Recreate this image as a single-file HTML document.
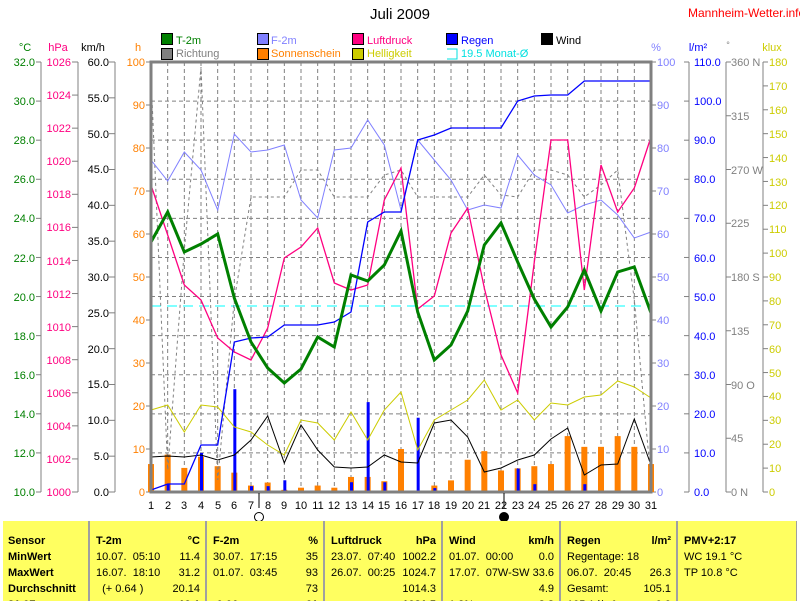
<!DOCTYPE html>
<html><head><meta charset="utf-8"><style>
body{margin:0;width:800px;height:601px;overflow:hidden;background:#fff;font-family:"Liberation Sans",sans-serif}
svg{position:absolute;left:0;top:0}
text{font-family:"Liberation Sans",sans-serif;font-size:11px}
#tb{position:absolute;left:3px;top:521px;width:794px;height:80px;background:#ffff60;overflow:hidden}
.c{position:absolute;top:0;height:80px;border-left:2px solid #a0a0a0;font-size:11px;line-height:16px;padding-top:12px;box-sizing:border-box}
.r{position:relative;height:16px;white-space:pre}
.r span{position:absolute;right:5px;top:0}
.b{font-weight:bold}
</style></head><body>
<svg id="s" width="800" height="521" viewBox="0 0 800 521">
<text x="400" y="19" text-anchor="middle" style="font-size:15px">Juli 2009</text>
<text x="688" y="17" fill="#ff0000" style="font-size:12px">Mannheim-Wetter.info</text>
<g stroke="#000" stroke-width="1">
<rect x="161.5" y="33.5" width="11" height="11" fill="#008000"/>
<rect x="257.5" y="33.5" width="11" height="11" fill="#8080ff"/>
<rect x="352.5" y="33.5" width="11" height="11" fill="#ff0080"/>
<rect x="446.5" y="33.5" width="11" height="11" fill="#0000ff"/>
<rect x="541.5" y="33.5" width="11" height="11" fill="#000"/>
<rect x="161.5" y="48.5" width="11" height="11" fill="#808080"/>
<rect x="257.5" y="48.5" width="11" height="11" fill="#ff8000"/>
<rect x="352.5" y="48.5" width="11" height="11" fill="#cccc00"/>
</g>
<path d="M447 49 H457 V59 H447" fill="none" stroke="#00e0e0"/>
<text x="176" y="44" fill="#008000">T-2m</text>
<text x="271" y="44" fill="#8080ff">F-2m</text>
<text x="367" y="44" fill="#ff0080">Luftdruck</text>
<text x="461" y="44" fill="#0000ff">Regen</text>
<text x="556" y="44" fill="#000">Wind</text>
<text x="176" y="57" fill="#808080">Richtung</text>
<text x="271" y="57" fill="#ff8000">Sonnenschein</text>
<text x="367" y="57" fill="#cccc00">Helligkeit</text>
<text x="461" y="57" fill="#00e0e0">19.5 Monat-Ø</text>
<text x="25" y="51" fill="#008000" text-anchor="middle">°C</text>
<text x="58" y="51" fill="#ff0080" text-anchor="middle">hPa</text>
<text x="93" y="51" fill="#000" text-anchor="middle">km/h</text>
<text x="138" y="51" fill="#ff8000" text-anchor="middle">h</text>
<text x="656" y="51" fill="#8080ff" text-anchor="middle">%</text>
<text x="698" y="51" fill="#0000ff" text-anchor="middle">l/m²</text>
<text x="728" y="48" fill="#808080" text-anchor="middle" style="font-size:9px">°</text>
<text x="772" y="51" fill="#cccc00" text-anchor="middle">klux</text>
<g id="g"></g>
<g text-anchor="end" fill="#008000">
<text x="35" y="66">32.0</text><text x="35" y="105">30.0</text><text x="35" y="144">28.0</text><text x="35" y="183">26.0</text><text x="35" y="222">24.0</text><text x="35" y="262">22.0</text><text x="35" y="301">20.0</text><text x="35" y="340">18.0</text><text x="35" y="379">16.0</text><text x="35" y="418">14.0</text><text x="35" y="457">12.0</text><text x="35" y="496">10.0</text>
</g>
<g text-anchor="end" fill="#ff0080">
<text x="71" y="66">1026</text><text x="71" y="99">1024</text><text x="71" y="132">1022</text><text x="71" y="165">1020</text><text x="71" y="198">1018</text><text x="71" y="231">1016</text><text x="71" y="265">1014</text><text x="71" y="298">1012</text><text x="71" y="331">1010</text><text x="71" y="364">1008</text><text x="71" y="397">1006</text><text x="71" y="430">1004</text><text x="71" y="463">1002</text><text x="71" y="496">1000</text>
</g>
<g text-anchor="end" fill="#000">
<text x="109" y="66">60.0</text><text x="109" y="102">55.0</text><text x="109" y="138">50.0</text><text x="109" y="173">45.0</text><text x="109" y="209">40.0</text><text x="109" y="245">35.0</text><text x="109" y="281">30.0</text><text x="109" y="317">25.0</text><text x="109" y="353">20.0</text><text x="109" y="388">15.0</text><text x="109" y="424">10.0</text><text x="109" y="460">5.0</text><text x="109" y="496">0.0</text>
</g>
<g text-anchor="end" fill="#ff8000">
<text x="145" y="66">100</text><text x="145" y="109">90</text><text x="145" y="152">80</text><text x="145" y="195">70</text><text x="145" y="238">60</text><text x="145" y="281">50</text><text x="145" y="324">40</text><text x="145" y="367">30</text><text x="145" y="410">20</text><text x="145" y="453">10</text><text x="145" y="496">0</text>
</g>
<g fill="#8080ff">
<text x="657" y="66">100</text><text x="657" y="109">90</text><text x="657" y="152">80</text><text x="657" y="195">70</text><text x="657" y="238">60</text><text x="657" y="281">50</text><text x="657" y="324">40</text><text x="657" y="367">30</text><text x="657" y="410">20</text><text x="657" y="453">10</text><text x="657" y="496">0</text>
</g>
<g fill="#0000ff">
<text x="694" y="66">110.0</text><text x="694" y="105">100.0</text><text x="694" y="144">90.0</text><text x="694" y="183">80.0</text><text x="694" y="222">70.0</text><text x="694" y="262">60.0</text><text x="694" y="301">50.0</text><text x="694" y="340">40.0</text><text x="694" y="379">30.0</text><text x="694" y="418">20.0</text><text x="694" y="457">10.0</text><text x="694" y="496">0.0</text>
</g>
<g fill="#808080">
<text x="731" y="66">360 N</text><text x="731" y="120">315</text><text x="731" y="174">270 W</text><text x="731" y="227">225</text><text x="731" y="281">180 S</text><text x="731" y="335">135</text><text x="731" y="389">90 O</text><text x="731" y="442">45</text><text x="731" y="496">0 N</text>
</g>
<g fill="#cccc00">
<text x="769" y="66">180</text><text x="769" y="90">170</text><text x="769" y="114">160</text><text x="769" y="138">150</text><text x="769" y="162">140</text><text x="769" y="186">130</text><text x="769" y="209">120</text><text x="769" y="233">110</text><text x="769" y="257">100</text><text x="769" y="281">90</text><text x="769" y="305">80</text><text x="769" y="329">70</text><text x="769" y="353">60</text><text x="769" y="377">50</text><text x="769" y="400">40</text><text x="769" y="424">30</text><text x="769" y="448">20</text><text x="769" y="472">10</text><text x="769" y="496">0</text>
</g>
<g text-anchor="middle" fill="#000">
<text x="151" y="509">1</text><text x="168" y="509">2</text><text x="184" y="509">3</text><text x="201" y="509">4</text><text x="218" y="509">5</text><text x="234" y="509">6</text><text x="251" y="509">7</text><text x="268" y="509">8</text><text x="284" y="509">9</text><text x="301" y="509">10</text><text x="318" y="509">11</text><text x="334" y="509">12</text><text x="351" y="509">13</text><text x="368" y="509">14</text><text x="384" y="509">15</text><text x="401" y="509">16</text><text x="418" y="509">17</text><text x="434" y="509">18</text><text x="451" y="509">19</text><text x="468" y="509">20</text><text x="484" y="509">21</text><text x="501" y="509">22</text><text x="518" y="509">23</text><text x="534" y="509">24</text><text x="551" y="509">25</text><text x="568" y="509">26</text><text x="584" y="509">27</text><text x="601" y="509">28</text><text x="618" y="509">29</text><text x="634" y="509">30</text><text x="651" y="509">31</text>
</g>
<line x1="259" y1="493" x2="259" y2="508" stroke="#000"/>
<line x1="504" y1="493" x2="504" y2="508" stroke="#000"/>
<circle cx="259" cy="517" r="4.5" fill="#fff" stroke="#000"/>
<circle cx="504" cy="517" r="4.5" fill="#000" stroke="#000"/>
</svg>
<div id="tb">
<div class="c" style="left:0;width:85px;border-left:none;padding-left:5px">
<div class="r b">Sensor</div><div class="r b">MinWert</div><div class="r b">MaxWert</div><div class="r b">Durchschnitt</div><div class="r b">31.07.</div></div>
<div class="c" style="left:85px;width:117px;padding-left:6px">
<div class="r b">T-2m<span>°C</span></div><div class="r">10.07.  05:10<span>11.4</span></div><div class="r">16.07.  18:10<span>31.2</span></div><div class="r">  (+ 0.64 )<span>20.14</span></div><div class="r"><span class="b">19.1</span></div></div>
<div class="c" style="left:202px;width:118px;padding-left:6px">
<div class="r b">F-2m<span>%</span></div><div class="r">30.07.  17:15<span>35</span></div><div class="r">01.07.  03:45<span>93</span></div><div class="r"><span>73</span></div><div class="r">-0.06 ...<span class="b">61</span></div></div>
<div class="c" style="left:320px;width:118px;padding-left:6px">
<div class="r b">Luftdruck<span>hPa</span></div><div class="r">23.07.  07:40<span>1002.2</span></div><div class="r">26.07.  00:25<span>1024.7</span></div><div class="r"><span>1014.3</span></div><div class="r"><span class="b">1021.5</span></div></div>
<div class="c" style="left:438px;width:118px;padding-left:6px">
<div class="r b">Wind<span>km/h</span></div><div class="r">01.07.  00:00<span>0.0</span></div><div class="r">17.07.  07W-SW<span>33.6</span></div><div class="r"><span>4.9</span></div><div class="r">1.8%<span class="b">3.8</span></div></div>
<div class="c" style="left:556px;width:117px;padding-left:6px">
<div class="r b">Regen<span>l/m²</span></div><div class="r">Regentage: 18</div><div class="r">06.07.  20:45<span>26.3</span></div><div class="r">Gesamt:<span>105.1</span></div><div class="r">105.1 l/m²<span class="b">0.0</span></div></div>
<div class="c" style="left:673px;width:121px;padding-left:6px">
<div class="r b">PMV+2:17</div><div class="r">WC 19.1 °C</div><div class="r">TP 10.8 °C</div></div>
<div class="c" style="left:793px;width:2px"></div>
</div>
<script>
var g=document.getElementById('g'),h='';
function X(d){return 151+(d-1)*500/30}
function L(x1,y1,x2,y2,c,w,da){h+='<line x1="'+x1+'" y1="'+y1+'" x2="'+x2+'" y2="'+y2+'" stroke="'+c+'" stroke-width="'+(w||1)+'"'+(da?' stroke-dasharray="'+da+'"':'')+'/>';}
function P(a,c,w,da){var p=a.map(function(y,i){return X(i+1).toFixed(1)+','+y}).join(' ');h+='<polyline points="'+p+'" fill="none" stroke="'+c+'" stroke-width="'+(w||1)+'"'+(da?' stroke-dasharray="'+da+'"':'')+'/>';}
var G='#808080';
for(var d=2;d<=30;d++)L(X(d),62,X(d),492,G,1,'4,3');
for(var i=1;i<11;i++){var y=62+i*430/11;L(151,y,651,y,G,1,'4,3');}
L(41,62,41,492,G);L(78,62,78,492,G);L(115,62,115,492,G);
L(689,62,689,492,G);L(726,62,726,492,G);L(763,62,763,492,G);
for(i=0;i<=11;i++){y=62+i*430/11;L(36,y,41,y,G);L(684,y,689,y,G);}
for(i=0;i<=13;i++){y=62+i*430/13;L(72,y,78,y,G);}
for(i=0;i<=12;i++){y=62+i*430/12;L(109,y,115,y,G);}
for(i=0;i<=10;i++){y=62+i*43;L(146,y,151,y,G);L(651,y,656,y,G);}
for(i=0;i<=8;i++){y=62+i*430/8;L(726,y,731,y,G);}
for(i=0;i<=18;i++){y=62+i*430/18;L(763,y,768,y,G);}
var sun=[6.5,8.7,5.6,8.2,6,4.5,1.5,2.2,0.5,1,1.5,1,3.5,3.5,2.5,10,0,1.5,2.7,7.5,9.5,5,5.5,6,6.5,13,10.5,10.5,13,10.5,6.5];
sun.forEach(function(v,i){if(v>0)h+='<rect x="'+(X(i+1)-3)+'" y="'+(492-v*4.3)+'" width="6" height="'+(v*4.3)+'" fill="#ff8000"/>';});
var rain={2:2,4:10,6:26.3,7:1.5,8:1.5,9:3,13:2.5,14:23,15:2.5,17:19,18:1,23:6,24:2,27:2};
for(var k in rain)h+='<rect x="'+(X(+k)-1)+'" y="'+(492-rain[k]*3.909)+'" width="3" height="'+(rain[k]*3.909)+'" fill="#0000ff"/>';
L(151,306,651,306,'#00ffff',1,'10,6');
P([75,470,250,67,480,300,197,197,197,170,170,197,197,197,175,170,197,197,197,197,175,195,197,170,170,175,197,185,170,300,480],G,1,'3,3');
P([410,405,432,405,407,427,432,445,455,420,423,440,412,440,410,392,450,420,410,400,380,410,400,420,403,405,397,395,381,387,398],'#cccc00');
P([457,456,457,455,460,455,440,416,463,425,450,467,468,467,455,462,463,423,420,437,472,468,460,455,439,428,475,465,464,419,465],'#000');
P([160,181,152,170,210,134,152,150,145,200,218,150,148,120,145,210,140,160,180,210,205,208,155,175,185,213,205,200,215,238,232],'#8080ff');
P([185,235,285,300,338,352,360,328,258,247,228,283,290,285,200,168,309,296,233,208,288,355,393,262,140,140,290,165,212,188,137],'#ff0080',1.3);
P([490,484,484,445,445,342,338,337,325,325,325,322,312,222,212,212,140,135,128,128,128,128,101,96,95,95,81,81,81,81,81],'#0000ff',1.3);
P([242,212,252,244,234,298,342,368,383,369,337,347,275,281,265,231,312,360,345,311,245,223,262,299,327,307,270,311,272,267,313],'#008000',3);
h+='<rect x="151" y="62" width="500" height="430" fill="none" stroke="#808080" stroke-width="3"/>';
g.innerHTML=h;
</script>
</body></html>
